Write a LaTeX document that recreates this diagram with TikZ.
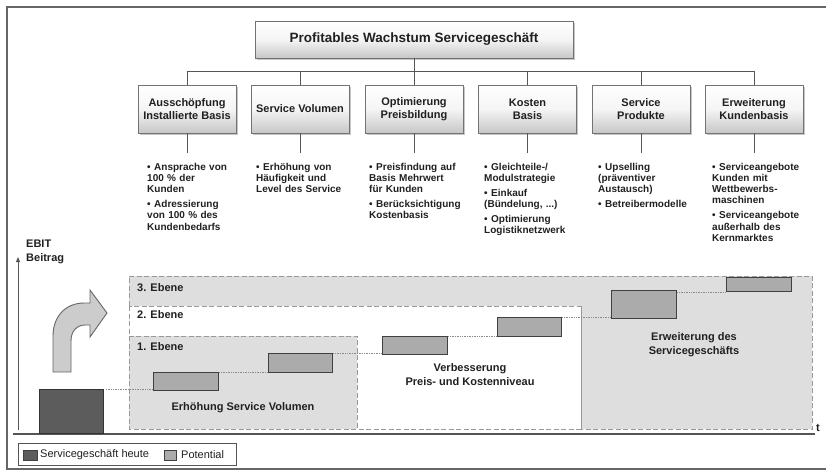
\documentclass[tikz,border=0pt]{standalone}
\usepackage{fontspec}
\setmainfont{Liberation Sans}
\usetikzlibrary{shadows,arrows.meta}
\definecolor{txt}{HTML}{202020}
\definecolor{ln}{HTML}{555555}
\definecolor{reg}{HTML}{DEDEDE}
\definecolor{potf}{HTML}{ABABAB}
\definecolor{darkf}{HTML}{5C5C5C}
\newcommand\bitem[1]{\par\noindent\hangindent=7pt\hangafter=1\makebox[7pt][l]{\textbullet}#1\par\vspace{3.6pt}}
\tikzset{
  topbox/.style={draw=black!55, line width=0.8pt, top color=white, bottom color=black!22, middle color=black!4,
     drop shadow={shadow xshift=1.5pt, shadow yshift=-1.5pt, opacity=0.45},
     inner sep=0pt, align=center, text=txt, font=\bfseries\fontsize{11}{13.3}\selectfont},
  conn/.style={draw=ln, line width=0.8pt},
  bul/.style={anchor=north west, inner sep=0pt, text width=100pt, align=left, text=txt,
     font=\bfseries\fontsize{10}{11.3}\selectfont},
  lbl/.style={inner sep=0pt, text=txt, font=\bfseries\fontsize{11}{13.5}\selectfont},
  region/.style={draw=black!40, line width=0.8pt, dash pattern=on 5pt off 2.5pt},
  pot/.style={draw=black!75, line width=1.2pt, fill=potf, inner sep=0pt, anchor=north west},
  dotline/.style={draw=black!45, densely dotted, line width=0.7pt},
  frameline/.style={draw=black!60, line width=1.6pt},
}
\begin{document}
\begin{tikzpicture}[x=1pt,y=-1pt]
\useasboundingbox (0,0) rectangle (826,475);
% frame
\draw[frameline] (826,7) -- (7,7) -- (7,469) -- (826,469);
% top tree
\node[topbox, minimum width=318pt, minimum height=37pt, font=\bfseries\fontsize{13.5}{15}\selectfont] (top) at (414,39.5) {Profitables Wachstum Servicegeschäft};
\node[topbox, minimum width=98pt, minimum height=48pt] (b1) at (187,109) {Ausschöpfung\\Installierte Basis};
\node[topbox, minimum width=98pt, minimum height=48pt] (b2) at (300,109) {Service Volumen};
\node[topbox, minimum width=98pt, minimum height=48pt] (b3) at (414,109) {Optimierung\\Preisbildung};
\node[topbox, minimum width=98pt, minimum height=48pt] (b4) at (527.5,109) {Kosten\\Basis};
\node[topbox, minimum width=98pt, minimum height=48pt] (b5) at (641,109) {Service\\Produkte};
\node[topbox, minimum width=98pt, minimum height=48pt] (b6) at (754,109) {Erweiterung\\Kundenbasis};
\coordinate (bus) at (0,71);
\draw[conn] (top.south) -- (top.south |- bus);
\draw[conn] (b1.north) -- (b1.north |- bus) -- (b6.north |- bus) -- (b6.north);
\foreach \b in {b2,b3,b4,b5}{\draw[conn] (\b.north) -- (\b.north |- bus);}
\foreach \b in {b1,b2,b3,b4,b5,b6}{\draw[conn] (\b.south) -- ++(0,20);}
% bullet lists
\node[bul] (l1) at (147,158.5) {\bitem{Ansprache von\\100 \% der\\Kunden}\bitem{Adressierung\\von 100 \% des\\Kundenbedarfs}};
\node[bul] (l2) at (256,158.5) {\bitem{Erhöhung von\\Häufigkeit und\\Level des Service}};
\node[bul] (l3) at (369,158.5) {\bitem{Preisfindung auf\\Basis Mehrwert\\für Kunden}\bitem{Berücksichtigung\\Kostenbasis}};
\node[bul] (l4) at (484,158.5) {\bitem{Gleichteile-/\\Modulstrategie}\bitem{Einkauf\\(Bündelung, ...)}\bitem{Optimierung\\Logistiknetzwerk}};
\node[bul] (l5) at (598,158.5) {\bitem{Upselling\\(präventiver\\Austausch)}\bitem{Betreibermodelle}};
\node[bul] (l6) at (712,158.5) {\bitem{Serviceangebote\\Kunden mit\\Wettbewerbs-\\maschinen}\bitem{Serviceangebote\\außerhalb des\\Kernmarktes}};
% regions
\draw[region, fill=reg] (129,276) -- (812,276) -- (812,429) -- (581,429) -- (581,306) -- (129,306) -- cycle;
\draw[region, fill=white] (129,306) rectangle (581,429);
\draw[region, fill=reg] (129,336) rectangle (357,429);
\node[lbl, anchor=west] (e3) at (137,288) {3. Ebene};
\node[lbl, anchor=west] (e2) at (137,315) {2. Ebene};
\node[lbl, anchor=west] (e1) at (137,347) {1. Ebene};
% axes
\node[lbl, anchor=west, align=left] (ebit) at (26,252) {EBIT\\Beitrag};
\coordinate (yb) at (18,430);
\coordinate (yt) at (18,257);
\draw[draw=ln, line width=1pt, -{Triangle[length=5pt,width=4pt]}] (yb) -- (yt);
\coordinate (xa) at (13,434);
\coordinate (xb) at (815,434);
\draw[draw=ln, line width=1.3pt] (xa) -- (xb);
\node[lbl, anchor=west] (t) at (816,428) {t};
% curved arrow
\draw[draw=black!60, line width=0.9pt, fill=black!20] (53,372) -- (53,336) .. controls (53,316) and (66,303) .. (84,303) -- (90,303) -- (90,290) -- (107,313) -- (90,337) -- (90,325) -- (85,325) .. controls (77,325) and (71,331) .. (71,341) -- (71,372) -- cycle;
% today box
\node[draw=black!80, line width=1pt, fill=darkf, inner sep=0pt, minimum width=64pt, minimum height=44pt, anchor=south west] (dk) at (39,434) {};
% potential boxes
\node[pot, minimum width=65pt, minimum height=18pt] (p1) at (153,372) {};
\node[pot, minimum width=64pt, minimum height=19pt] (p2) at (268,353) {};
\node[pot, minimum width=65pt, minimum height=18pt] (p3) at (382,336) {};
\node[pot, minimum width=64pt, minimum height=19pt] (p4) at (497,317) {};
\node[pot, minimum width=65pt, minimum height=28pt] (p5) at (611,290) {};
\node[pot, minimum width=65pt, minimum height=14pt] (p6) at (726,277) {};
\draw[dotline] ([xshift=2pt]dk.north east) -- (dk.north east -| p1.west);
\draw[dotline] (p1.north east) -- (p1.north east -| p2.west);
\draw[dotline] (p2.north east) -- (p2.north east -| p3.west);
\draw[dotline] (p3.north east) -- (p3.north east -| p4.west);
\draw[dotline] (p4.north east) -- (p4.north east -| p5.west);
\draw[dotline] ([yshift=-2pt]p5.north east) -- ([yshift=-2pt]p5.north east -| p6.west);
% phase labels
\node[lbl] (s1) at (243,408) {Erhöhung Service Volumen};
\node[lbl, align=center, font=\bfseries\fontsize{11}{14}\selectfont] (s2) at (470,375) {Verbesserung\\Preis- und Kostenniveau};
\node[lbl, align=center] (s3) at (694,344.5) {Erweiterung des\\Servicegeschäfts};
% legend
\node[draw=ln, line width=0.8pt, minimum width=218pt, minimum height=22pt, inner sep=0pt, anchor=north west] (leg) at (18,443) {};
\node[draw=black!75, line width=0.8pt, fill=darkf, minimum width=14pt, minimum height=10pt, inner sep=0pt, anchor=north west] (lg1) at (23,450) {};
\node[inner sep=0pt, anchor=west, text=txt, font=\fontsize{11}{13}\selectfont] (lt1) at (40,455) {Servicegeschäft heute};
\node[draw=black!75, line width=0.8pt, fill=potf, minimum width=12pt, minimum height=10pt, inner sep=0pt, anchor=north west] (lg2) at (164,450) {};
\node[inner sep=0pt, anchor=west, text=txt, font=\fontsize{11}{13}\selectfont] (lt2) at (181,455) {Potential};
\end{tikzpicture}
\end{document}
